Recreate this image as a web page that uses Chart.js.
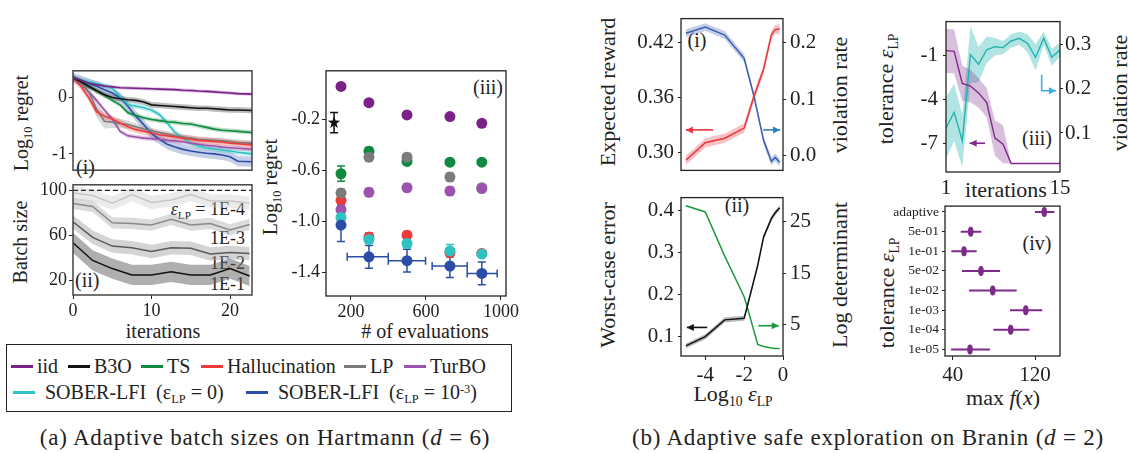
<!DOCTYPE html>
<html>
<head>
<meta charset="utf-8">
<script src="https://cdn.jsdelivr.net/npm/chart.js@4.4.1/dist/chart.umd.min.js"></script>
<style>
  body { margin: 0; width: 1128px; height: 453px; background: #fff; position: relative; overflow: hidden;
         font-family: "Liberation Serif", "DejaVu Serif", "Times New Roman", serif; color: #222; }
  canvas { position: absolute; }
  .t { position: absolute; white-space: nowrap; line-height: 1; transform: translate(-50%, -50%); }
  .r { transform: translate(-50%, -50%) rotate(-90deg); }
  .l { transform: translate(0, -50%); }
  .rt { transform: translate(-100%, -50%); }
  .cap { font-size: 23px; letter-spacing: 0.8px; }
  sub { font-size: 0.62em; vertical-align: -0.35em; line-height: 0; }
  sup { font-size: 0.62em; vertical-align: 0.5em; line-height: 0; }
  #legend { position: absolute; left: 6px; top: 344px; width: 506px; height: 68px; border: 1px solid #222;
            box-sizing: border-box; font-size: 20px; }
  .item { position: absolute; display: flex; align-items: center; white-space: nowrap; line-height: 1;
          transform: translateY(-50%); }
  .swatch { display: inline-block; width: 22px; height: 3px; margin-right: 4px; }
</style>
</head>
<body>

<!-- (a) labels -->
<div class="t r" style="left:21px;top:123px;font-size:20px">Log<sub>10</sub> regret</div>
<div class="t r" style="left:20px;top:242px;font-size:20px">Batch size</div>
<div class="t l" style="left:76px;top:167px;font-size:20px">(i)</div>
<div class="t l" style="left:75px;top:280px;font-size:20px">(ii)</div>
<div class="t rt" style="left:245px;top:209px;font-size:18px"><i>ε</i><sub>LP</sub> = 1E-4</div>
<div class="t rt" style="left:245px;top:238px;font-size:18px">1E-3</div>
<div class="t rt" style="left:245px;top:263px;font-size:18px">1E-2</div>
<div class="t rt" style="left:245px;top:284px;font-size:18px">1E-1</div>
<div class="t" style="left:163px;top:331px;font-size:20px">iterations</div>
<div class="t r" style="left:270px;top:187px;font-size:20px">Log<sub>10</sub> regret</div>
<div class="t" style="left:488px;top:87px;font-size:20px">(iii)</div>
<div class="t" style="left:425px;top:331px;font-size:20px"># of evaluations</div>
<div id="legend"></div>
<div class="t cap" style="left:265px;top:437px">(a) Adaptive batch sizes on Hartmann (<i>d</i> = 6)</div>

<!-- (b) labels -->
<div class="t r" style="left:608px;top:92px;font-size:22px">Expected reward</div>
<div class="t r" style="left:840px;top:95px;font-size:22px">violation rate</div>
<div class="t" style="left:697px;top:40px;font-size:20px">(i)</div>
<div class="t r" style="left:608px;top:275px;font-size:22px">Worst-case error</div>
<div class="t r" style="left:840px;top:275px;font-size:22px">Log determinant</div>
<div class="t" style="left:737px;top:205px;font-size:20px">(ii)</div>
<div class="t" style="left:733px;top:394px;font-size:22px">Log<sub>10</sub> <i>ε</i><sub>LP</sub></div>
<div class="t r" style="left:886px;top:89px;font-size:22px">tolerance <i>ε</i><sub>LP</sub></div>
<div class="t r" style="left:1120px;top:93px;font-size:22px">violation rate</div>
<div class="t" style="left:1006px;top:190px;font-size:22px">iterations</div>
<div class="t" style="left:1037px;top:138px;font-size:20px">(iii)</div>
<div class="t r" style="left:887px;top:293px;font-size:22px">tolerance <i>ε</i><sub>LP</sub></div>
<div class="t" style="left:1037px;top:243px;font-size:20px">(iv)</div>
<div class="t" style="left:1003px;top:398px;font-size:22px">max <i>f</i>(<i>x</i>)</div>
<div class="t cap" style="left:868px;top:437px">(b) Adaptive safe exploration on Branin (<i>d</i> = 2)</div>

<script>
// ---------- (a)(i) log10 regret vs iterations ----------
const itersA = [0, 1, 2, 3, 4, 5, 6, 7, 8, 9, 10, 11, 12, 13, 14, 15, 16, 17, 18, 19, 20, 21, 22.8];
const methodLabels = ['iid', 'B3O', 'TS', 'Hallucination', 'LP', 'TurBO',
  'SOBER-LFI&nbsp; (ε<sub>LP</sub> = 0)', 'SOBER-LFI&nbsp; (ε<sub>LP</sub> = 10<sup>-3</sup>)'];
const methodColors = ['#7a2288', '#111111', '#0f8a3e', '#f03a3a', '#7b7b7b', '#9d52ad', '#2fc2c2', '#2a4ea6'];
const regretIid   = [0.35, 0.31, 0.26, 0.23, 0.205, 0.19, 0.175, 0.17, 0.165, 0.16, 0.155, 0.15, 0.145, 0.14, 0.13, 0.125, 0.115, 0.11, 0.10, 0.09, 0.08, 0.07, 0.06];
const regretB3O   = [0.35, 0.28, 0.20, 0.12, 0.05, 0.0, -0.02, -0.04, -0.05, -0.08, -0.13, -0.14, -0.15, -0.16, -0.17, -0.18, -0.19, -0.19, -0.20, -0.21, -0.22, -0.22, -0.23];
const regretTS    = [0.35, 0.30, 0.20, 0.12, 0.04, -0.05, -0.13, -0.27, -0.32, -0.36, -0.39, -0.41, -0.43, -0.44, -0.46, -0.47, -0.50, -0.53, -0.56, -0.58, -0.59, -0.60, -0.62];
const regretHall  = [0.35, 0.20, 0.0, -0.25, -0.33, -0.38, -0.45, -0.52, -0.57, -0.60, -0.63, -0.66, -0.68, -0.70, -0.72, -0.74, -0.76, -0.77, -0.78, -0.79, -0.81, -0.82, -0.84];
const regretLP    = [0.35, 0.25, 0.10, -0.20, -0.42, -0.44, -0.46, -0.48, -0.52, -0.56, -0.59, -0.62, -0.65, -0.68, -0.70, -0.72, -0.74, -0.75, -0.76, -0.77, -0.78, -0.80, -0.81];
const regretTurBO = [0.35, 0.25, 0.10, -0.05, -0.22, -0.38, -0.60, -0.68, -0.70, -0.72, -0.73, -0.74, -0.76, -0.77, -0.79, -0.81, -0.83, -0.85, -0.86, -0.88, -0.89, -0.90, -0.92];
const regretSob0  = [0.35, 0.31, 0.28, 0.25, 0.21, 0.17, 0.02, -0.13, -0.15, -0.18, -0.22, -0.30, -0.45, -0.62, -0.72, -0.81, -0.86, -0.89, -0.91, -0.93, -0.95, -0.97, -1.00];
const regretSob3  = [0.35, 0.30, 0.25, 0.20, 0.14, 0.08, 0.0, -0.16, -0.33, -0.48, -0.64, -0.74, -0.83, -0.88, -0.92, -0.95, -0.97, -0.99, -1.00, -1.02, -1.05, -1.13, -1.14];
const regretBand  = [0.03, 0.05, 0.04, 0.06, 0.06, 0.04, 0.05, 0.09];
const regretBandLP = [0.02, 0.05, 0.1, 0.15, 0.13, 0.1, 0.08, 0.07, 0.06, 0.05, 0.05, 0.05, 0.05, 0.05, 0.05, 0.05, 0.05, 0.05, 0.05, 0.05, 0.05, 0.05, 0.05];
const regretTicks = [0, -1];

// ---------- (a)(ii) batch size ----------
const itersB = [0, 2.5, 5, 7.5, 10, 12.5, 15, 17.5, 20, 22.5];
const batch1e4 = [97.8, 95.5, 88.7, 96.4, 89.2, 91.5, 96.4, 90.6, 90.6, 88.7];
const batch1e3 = [88.4, 85.8, 71.2, 70.6, 69.2, 74.3, 69.2, 70.6, 64.9, 69.7];
const batch1e2 = [72.0, 58.3, 50.5, 49.1, 45.7, 49.1, 48.5, 43.4, 44.8, 44.0];
const batch1e1 = [53.4, 37.7, 30.5, 24.8, 24.8, 27.6, 24.8, 24.8, 30.5, 23.9];
const batchBand = [6, 5, 6, 9];
const maxBatch = 100;
const batchTicks = [20, 60, 100];
const iterTicks = [0, 10, 20];

// ---------- (a)(iii) regret vs # of evaluations ----------
const evals = [147, 296, 499, 728, 898];
const evalIid   = [0.061, -0.067, -0.163, -0.176, -0.229];
const evalTS    = [-0.626, -0.449, -0.529, -0.535, -0.535];
const evalHall  = [-0.835, -1.123, -1.11, -1.248, -1.253];
const evalLP    = [-0.778, -0.496, -0.496, -0.652, -0.736];
const evalTurBO = [-0.908, -0.772, -0.736, -0.762, -0.743];
const evalSob0  = [-0.97, -1.143, -1.175, -1.233, -1.258];
const evalSob3  = [-1.03, -1.28, -1.31, -1.352, -1.41];
const errIid = [0.02, 0.02, 0.02, 0.02, 0.02];
const errTS = [0.06, 0.03, 0.02, 0.02, 0.015];
const errHall = [0.03, 0.03, 0.03, 0.03, 0.02];
const errLP = [0.03, 0.03, 0.03, 0.03, 0.02];
const errTurBO = [0.03, 0.03, 0.03, 0.03, 0.02];
const errSob0 = [0.02, 0.03, 0.03, 0.05, 0.02];
const errSob3 = [0.13, 0.09, 0.09, 0.09, 0.09];
const evalsSob3Lo = [null, 180, 399, 633, 820];
const evalsSob3Hi = [null, 399, 598, 820, 980];
const b3oEvals = [110];
const b3oRegret = [-0.224];
const b3oErr = [0.08];
const evalTicks = [200, 600, 1000];
const evalRegretTicks = [-0.2, -0.6, -1.0, -1.4];

// ---------- (b)(i) reward / violation vs log10 eps ----------
const logEpsI = [-5, -4, -3, -2, -1.5, -1, -0.6, -0.4, -0.17];
const expReward = [0.292, 0.311, 0.316, 0.327, 0.361, 0.391, 0.428, 0.434, 0.435];
const violRateI = [0.216, 0.227, 0.213, 0.172, 0.106, 0.027, -0.01, -0.003, -0.012];
const rewardTicks = [0.30, 0.36, 0.42];
const violTicksI = [0.0, 0.1, 0.2];

// ---------- (b)(ii) worst-case error / log determinant ----------
const logEpsII = [-5, -4, -3, -2, -1.85, -1.3, -1, -0.6, -0.4, -0.17];
const worstErr = [0.078, 0.1, 0.14, 0.144, 0.17, 0.27, 0.337, 0.381, 0.395, 0.407];
const logDet = [28.1, 26.9, 18.3, 10.4, 8.5, 1.1, 0.7, 0.4, 0.3, 0.3];
const worstTicks = [0.1, 0.2, 0.3, 0.4];
const logDetTicks = [5, 15, 25];
const logEpsTicks = [-4, -2, 0];

// ---------- (b)(iii) adaptive tolerance over iterations ----------
const itersC = [1, 2, 3, 4, 5, 6, 7, 8, 9, 10, 11, 12, 13, 14, 15];
const tolLog = [-0.69, -0.74, -2.92, -3.1, -3.57, -4.23, -6.63, -7.07, -8.38, -8.38, -8.38, -8.38, -8.38, -8.38, -8.38];
const tolBand = [1.5, 1.5, 1.2, 1.1, 1.0, 1.0, 1.2, 1.3, 0, 0, 0, 0, 0, 0, 0];
const violRateIII = [0.111, 0.147, 0.082, 0.278, 0.256, 0.289, 0.296, 0.294, 0.309, 0.315, 0.304, 0.272, 0.315, 0.272, 0.289];
const violBandIII = [0.07, 0.065, 0.06, 0.065, 0.04, 0.03, 0.02, 0.015, 0.015, 0.015, 0.02, 0.03, 0.015, 0.02, 0.015];
const tolTicks = [-7, -4, -1];
const violTicksIII = [0.1, 0.2, 0.3];
const iterTicksC = [1, 15];

// ---------- (b)(iv) max f(x) per tolerance ----------
const tolLabels = ['adaptive', '5e-01', '1e-01', '5e-02', '1e-02', '1e-03', '1e-04', '1e-05'];
const maxF   = [129, 57.5, 51, 67.5, 78.9, 111, 96.4, 56.8];
const maxFLo = [120, 47.8, 38.7, 49, 55.8, 95.7, 79.5, 38.4];
const maxFHi = [138.8, 67.8, 63.3, 86, 102.2, 127, 114.5, 76.2];
const maxFTicks = [40, 120];

// ---------- helpers ----------
Chart.defaults.font.family = "'Liberation Serif', 'DejaVu Serif', 'Times New Roman', serif";
Chart.defaults.color = '#222';
Chart.defaults.plugins.legend.display = false;
Chart.defaults.plugins.tooltip.enabled = false;

const purple = '#7d2a8a';

function rgba(hex, a) {
  const n = parseInt(hex.slice(1), 16);
  return `rgba(${n >> 16},${(n >> 8) & 255},${n & 255},${a})`;
}
function pts(xs, ys) { return xs.map((x, i) => ({ x, y: ys[i] })); }

const fit = n => s => { if (s.isHorizontal()) s.height = n; else s.width = n; };

function axis(o) {
  return {
    type: 'linear', min: o.min, max: o.max, position: o.pos, reverse: !!o.reverse,
    afterBuildTicks: s => { s.ticks = o.ticks.map(v => ({ value: v })); },
    afterFit: fit(o.size),
    grid: { drawOnChartArea: false, tickLength: o.tick === undefined ? 4 : o.tick, color: '#222' },
    border: { display: false },
    ticks: { callback: o.fmt || (v => String(v)), padding: o.pad === undefined ? 2 : o.pad,
             font: { size: o.font || 18 }, color: '#222' }
  };
}

function band(xs, ys, hw, fillColor, yAxisID) {
  const w = i => Array.isArray(hw) ? hw[i] : hw;
  const base = { borderWidth: 0, borderColor: 'rgba(0,0,0,0)', pointRadius: 0, order: 2, yAxisID };
  return [
    Object.assign({}, base, { data: xs.map((x, i) => ({ x, y: ys[i] - w(i) })), fill: false }),
    Object.assign({}, base, { data: xs.map((x, i) => ({ x, y: ys[i] + w(i) })), fill: '-1', backgroundColor: fillColor })
  ];
}
function line(xs, ys, color, width, yAxisID) {
  return { data: pts(xs, ys), borderColor: color, borderWidth: width || 1.6, pointRadius: 0,
           fill: false, order: 1, yAxisID };
}

// full box around the plot area
Chart.register({
  id: 'frame',
  afterDraw(chart, args, opts) {
    const { left, top, right, bottom } = chart.chartArea;
    const ctx = chart.ctx;
    ctx.save();
    ctx.strokeStyle = opts.color || '#222';
    ctx.lineWidth = opts.width || 1.2;
    ctx.strokeRect(left, top, right - left, bottom - top);
    ctx.restore();
  }
});

// error bars, custom markers and arrows
Chart.register({
  id: 'marks',
  beforeDatasetsDraw(chart) {
    const ctx = chart.ctx;
    chart.data.datasets.forEach((ds, i) => {
      if (!ds.yErr && !ds.xLo) return;
      const meta = chart.getDatasetMeta(i);
      const xs = chart.scales[meta.xAxisID], ys = chart.scales[meta.yAxisID];
      const cap = ds.cap || 0;
      ctx.save();
      ctx.strokeStyle = ds.errColor;
      ctx.lineWidth = ds.errWidth || 1.5;
      ctx.beginPath();
      ds.data.forEach((p, j) => {
        const px = xs.getPixelForValue(p.x), py = ys.getPixelForValue(p.y);
        if (ds.yErr && ds.yErr[j]) {
          const a = ys.getPixelForValue(p.y - ds.yErr[j]), b = ys.getPixelForValue(p.y + ds.yErr[j]);
          ctx.moveTo(px, a); ctx.lineTo(px, b);
          if (cap) { ctx.moveTo(px - cap, a); ctx.lineTo(px + cap, a); ctx.moveTo(px - cap, b); ctx.lineTo(px + cap, b); }
        }
        if (ds.xLo && ds.xLo[j] != null) {
          const a = xs.getPixelForValue(ds.xLo[j]), b = xs.getPixelForValue(ds.xHi[j]);
          ctx.moveTo(a, py); ctx.lineTo(b, py);
          if (cap) { ctx.moveTo(a, py - cap); ctx.lineTo(a, py + cap); ctx.moveTo(b, py - cap); ctx.lineTo(b, py + cap); }
        }
      });
      ctx.stroke();
      ctx.restore();
    });
  },
  afterDatasetsDraw(chart, args, opts) {
    const ctx = chart.ctx;
    chart.data.datasets.forEach((ds, i) => {
      if (!ds.marker) return;
      const meta = chart.getDatasetMeta(i);
      const xs = chart.scales[meta.xAxisID], ys = chart.scales[meta.yAxisID];
      ctx.save();
      ctx.fillStyle = ds.errColor;
      ds.data.forEach(p => {
        const px = xs.getPixelForValue(p.x), py = ys.getPixelForValue(p.y);
        ctx.beginPath();
        if (ds.marker === 'oval') {
          ctx.ellipse(px, py, 2.8, 5, 0, 0, Math.PI * 2);
        } else {
          for (let k = 0; k < 10; k++) {
            const r = k % 2 ? 2.6 : 6.5, a = -Math.PI / 2 + k * Math.PI / 5;
            ctx.lineTo(px + r * Math.cos(a), py + r * Math.sin(a));
          }
          ctx.closePath();
        }
        ctx.fill();
      });
      ctx.restore();
    });
    (opts.arrows || []).forEach(a => {
      const xs = chart.scales.x, ys = chart.scales[a.axis || 'y'];
      const P = a.xs.map((x, k) => [xs.getPixelForValue(x), ys.getPixelForValue(a.ys[k])]);
      const n = P.length;
      const [x1, y1] = P[n - 2], [x2, y2] = P[n - 1];
      const ang = Math.atan2(y2 - y1, x2 - x1), L = 7, W = 3.5;
      ctx.save();
      ctx.strokeStyle = a.color; ctx.fillStyle = a.color; ctx.lineWidth = 1.6;
      ctx.beginPath();
      P.forEach(([x, y], k) => k ? ctx.lineTo(x, y) : ctx.moveTo(x, y));
      ctx.stroke();
      ctx.beginPath();
      ctx.moveTo(x2, y2);
      ctx.lineTo(x2 - L * Math.cos(ang) + W * Math.sin(ang), y2 - L * Math.sin(ang) - W * Math.cos(ang));
      ctx.lineTo(x2 - L * Math.cos(ang) - W * Math.sin(ang), y2 - L * Math.sin(ang) + W * Math.cos(ang));
      ctx.closePath();
      ctx.fill();
      ctx.restore();
    });
  }
});

// box = plot area [l, t, r, b] in page pixels, pad = room around it [left, top, right, bottom]
function panel(box, pad, config) {
  const c = document.createElement('canvas');
  const w = box[2] - box[0] + pad[0] + pad[2], h = box[3] - box[1] + pad[1] + pad[3];
  c.width = w; c.height = h;
  c.style.cssText = `left:${box[0] - pad[0]}px;top:${box[1] - pad[1]}px;width:${w}px;height:${h}px`;
  document.body.appendChild(c);
  config.options.responsive = false;
  config.options.animation = false;
  return new Chart(c, config);
}

// ---------- legend (entry positions inside the box) ----------
const legendLeft = [4, 61, 134, 194, 337, 397, 6, 239];
const legendTop = [21, 21, 21, 21, 21, 21, 47, 47];
(function buildLegend() {
  const lg = document.getElementById('legend');
  methodLabels.forEach((lab, i) => {
    const it = document.createElement('div');
    it.className = 'item';
    it.style.left = legendLeft[i] + 'px';
    it.style.top = legendTop[i] + 'px';
    const sw = document.createElement('span');
    sw.className = 'swatch';
    sw.style.background = methodColors[i];
    if (i >= 6) sw.style.marginRight = '10px';
    const tx = document.createElement('span');
    tx.innerHTML = lab;
    it.appendChild(sw); it.appendChild(tx);
    lg.appendChild(it);
  });
})();

// ---------- (a)(i) ----------
const regretSeries = [regretIid, regretB3O, regretTS, regretHall, regretLP, regretTurBO, regretSob0, regretSob3];
const dsA1 = [];
regretSeries.forEach((ys, i) => {
  dsA1.push(...band(itersA, ys, i === 4 ? regretBandLP : regretBand[i], rgba(methodColors[i], 0.28), 'y'));
});
regretSeries.forEach((ys, i) => dsA1.push(line(itersA, ys, methodColors[i], 1.6, 'y')));
panel([73, 70, 252, 179], [45, 12, 12, 4], {
  type: 'line',
  data: { datasets: dsA1 },
  options: {
    layout: { padding: { left: 0, top: 12, right: 12, bottom: 4 } },
    scales: {
      x: { type: 'linear', min: 0, max: 22.8, display: false },
      y: axis({ min: -1.29, max: 0.475, ticks: regretTicks, size: 45, pos: 'left' })
    },
    plugins: { frame: { color: '#444', width: 1.5 } }
  }
});

// ---------- (a)(ii) ----------
const batchSeries = [batch1e4, batch1e3, batch1e2, batch1e1];
const batchLine = ['#c6c6c6', '#8a8a8a', '#5a5a5a', '#111111'];
const batchFill = ['rgba(205,205,205,0.4)', 'rgba(175,175,175,0.45)', 'rgba(160,160,160,0.45)', 'rgba(95,95,95,0.5)'];
const dsA2 = [];
batchSeries.forEach((ys, i) => dsA2.push(...band(itersB, ys, batchBand[i], batchFill[i], 'y')));
batchSeries.forEach((ys, i) => dsA2.push(line(itersB, ys, batchLine[i], 1.5, 'y')));
dsA2.push({ data: pts([0, 22.8], [maxBatch, maxBatch]), borderColor: '#222', borderWidth: 1.4,
            borderDash: [5, 3], pointRadius: 0, fill: false, order: 0 });
panel([73, 182, 252, 295], [45, 10, 12, 40], {
  type: 'line',
  data: { datasets: dsA2 },
  options: {
    layout: { padding: { left: 0, top: 10, right: 12, bottom: 0 } },
    scales: {
      x: axis({ min: 0, max: 22.8, ticks: iterTicks, size: 40, pos: 'bottom', pad: 1 }),
      y: axis({ min: 7, max: 105, ticks: batchTicks, size: 45, pos: 'left' })
    },
    plugins: { frame: { color: '#444', width: 1.5 } }
  }
});

// ---------- (a)(iii) ----------
const evalSeries = [evalIid, evalTS, evalHall, evalLP, evalTurBO, evalSob0, evalSob3];
const evalColorIdx = [0, 2, 3, 4, 5, 6, 7];
const evalErrs = [errIid, errTS, errHall, errLP, errTurBO, errSob0, errSob3];
const dsA3 = evalSeries.map((ys, k) => {
  const col = methodColors[evalColorIdx[k]];
  const d = { data: pts(evals, ys), pointRadius: 5.5, pointBackgroundColor: col, pointBorderWidth: 0,
              yErr: evalErrs[k], errColor: col, cap: 4, order: evalSeries.length - k };
  if (k === 6) { d.xLo = evalsSob3Lo; d.xHi = evalsSob3Hi; }
  return d;
});
dsA3.push({ data: pts(b3oEvals, b3oRegret), pointRadius: 0, yErr: b3oErr, errColor: '#111', cap: 4, marker: 'star' });
panel([326, 70, 506, 296], [55, 12, 25, 40], {
  type: 'scatter',
  data: { datasets: dsA3 },
  options: {
    layout: { padding: { left: 0, top: 12, right: 25, bottom: 0 } },
    scales: {
      x: axis({ min: 67, max: 1027, ticks: evalTicks, size: 40, pos: 'bottom', pad: 1 }),
      y: axis({ min: -1.588, max: 0.184, ticks: evalRegretTicks, size: 55, pos: 'left', fmt: v => v.toFixed(1) })
    },
    plugins: { frame: { color: '#222', width: 1.3 } }
  }
});

// ---------- (b)(i) ----------
const red = '#e8363c', blue = '#3a5fb3';
panel([681, 14, 783, 184], [65, 12, 55, 3], {
  type: 'line',
  data: { datasets: [
    ...band(logEpsI, expReward, 0.005, rgba(red, 0.3), 'y'),
    ...band(logEpsI, violRateI, 0.007, rgba(blue, 0.3), 'y2'),
    line(logEpsI, expReward, red, 1.5, 'y'),
    line(logEpsI, violRateI, blue, 1.5, 'y2')
  ] },
  options: {
    layout: { padding: { left: 0, top: 12, right: 0, bottom: 3 } },
    scales: {
      x: { type: 'linear', min: -5.25, max: 0, display: false },
      y: axis({ min: 0.281, max: 0.446, ticks: rewardTicks, size: 65, pos: 'left', font: 21, pad: 4, tick: 3, fmt: v => v.toFixed(2) }),
      y2: axis({ min: -0.026, max: 0.242, ticks: violTicksI, size: 55, pos: 'right', font: 21, pad: 4, tick: 3, fmt: v => v.toFixed(1) })
    },
    plugins: {
      frame: { color: '#222', width: 1.3 },
      marks: { arrows: [
        { xs: [-3.6, -5.0], ys: [0.325, 0.325], axis: 'y', color: red },
        { xs: [-1.02, -0.15], ys: [0.325, 0.325], axis: 'y', color: '#2a7fc4' }
      ] }
    }
  }
});

// ---------- (b)(ii) ----------
const green = '#1b9a3c';
panel([681, 184, 783, 356], [65, 3, 55, 40], {
  type: 'line',
  data: { datasets: [
    ...band(logEpsII, worstErr, 0.006, 'rgba(60,60,60,0.35)', 'y'),
    line(logEpsII, worstErr, '#111', 1.5, 'y'),
    line(logEpsII, logDet, green, 1.5, 'y2')
  ] },
  options: {
    layout: { padding: { left: 0, top: 3, right: 0, bottom: 0 } },
    scales: {
      x: axis({ min: -5.25, max: 0, ticks: logEpsTicks, size: 40, pos: 'bottom', font: 21, pad: 3 }),
      y: axis({ min: 0.054, max: 0.431, ticks: worstTicks, size: 65, pos: 'left', font: 21, pad: 4, tick: 3, fmt: v => v.toFixed(1) }),
      y2: axis({ min: -1.15, max: 29.7, ticks: logDetTicks, size: 55, pos: 'right', font: 21, pad: 4, tick: 3 })
    },
    plugins: {
      frame: { color: '#222', width: 1.3 },
      marks: { arrows: [
        { xs: [-3.9, -4.95], ys: [0.122, 0.122], axis: 'y', color: '#111' },
        { xs: [-1.27, -0.22], ys: [0.126, 0.126], axis: 'y', color: green }
      ] }
    }
  }
});

// ---------- (b)(iii) ----------
const teal = '#22b3ae';
panel([946, 16, 1060, 172], [60, 12, 55, 35], {
  type: 'line',
  data: { datasets: [
    ...band(itersC, tolLog, tolBand, rgba(purple, 0.3), 'y'),
    ...band(itersC, violRateIII, violBandIII, rgba(teal, 0.35), 'y2'),
    line(itersC, tolLog, purple, 1.4, 'y'),
    line(itersC, violRateIII, teal, 1.4, 'y2')
  ] },
  options: {
    layout: { padding: { left: 0, top: 12, right: 0, bottom: 0 } },
    scales: {
      x: axis({ min: 1, max: 15, ticks: iterTicksC, size: 35, pos: 'bottom', font: 21, pad: 4, tick: 0 }),
      y: axis({ min: -8.96, max: 1.29, ticks: tolTicks, size: 60, pos: 'left', font: 21, pad: 5, tick: 3 }),
      y2: axis({ min: 0.0114, max: 0.353, ticks: violTicksIII, size: 55, pos: 'right', font: 21, pad: 2, tick: 3, fmt: v => v.toFixed(1) })
    },
    plugins: {
      frame: { color: '#222', width: 1.3 },
      marks: { arrows: [
        { xs: [5.8, 3.9], ys: [-7.0, -7.0], axis: 'y', color: purple },
        { xs: [12.75, 12.75, 14.5], ys: [0.232, 0.196, 0.196], axis: 'y2', color: '#3aaee2' }
      ] }
    }
  }
});

// ---------- (b)(iv) ----------
panel([945, 203, 1060, 356], [72, 8, 20, 35], {
  type: 'scatter',
  data: { datasets: [{
    data: pts(maxF, tolLabels.map((_, i) => i)), pointRadius: 0,
    xLo: maxFLo, xHi: maxFHi, errColor: purple, errWidth: 2, marker: 'oval'
  }] },
  options: {
    layout: { padding: { left: 0, top: 8, right: 20, bottom: 0 } },
    scales: {
      x: axis({ min: 32.5, max: 144.3, ticks: maxFTicks, size: 35, pos: 'bottom', font: 21, pad: 3 }),
      y: axis({ min: -0.3, max: 7.33, ticks: tolLabels.map((_, i) => i), size: 72, pos: 'left', font: 13.5,
                pad: 3, tick: 3, reverse: true, fmt: v => tolLabels[v] })
    },
    plugins: { frame: { color: '#222', width: 1.3 } }
  }
});
</script>
</body>
</html>
